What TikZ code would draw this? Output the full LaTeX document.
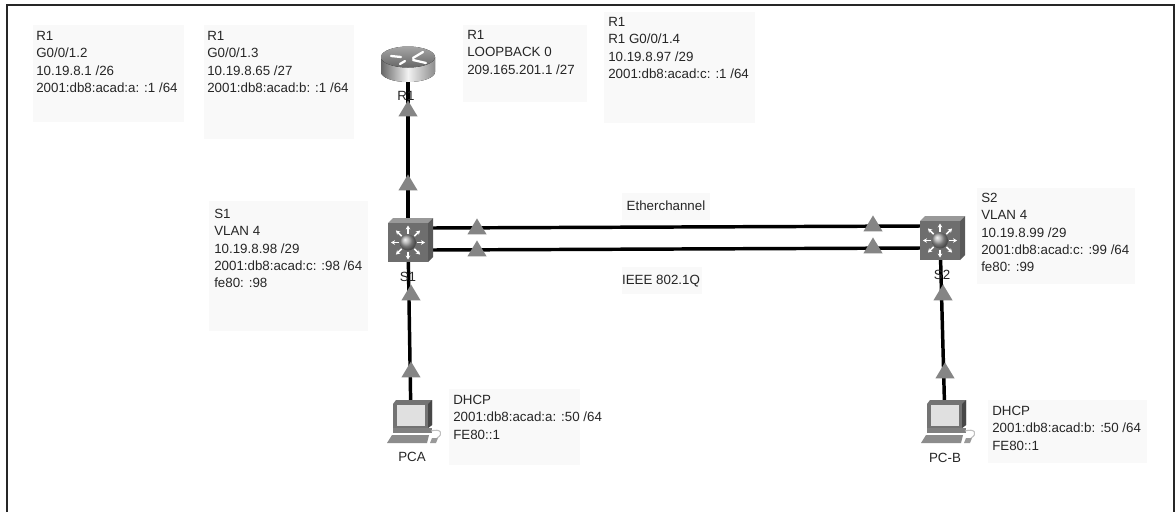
\documentclass[tikz,border=0pt]{standalone}
\usepackage{xcolor}
\usepackage{fontspec}
\setmainfont{Liberation Sans}
\usetikzlibrary{arrows.meta,positioning,shapes.geometric,calc}

\definecolor{notefill}{HTML}{F9F9F9}
\definecolor{markgray}{HTML}{858585}
\definecolor{swfront}{HTML}{6E6E6E}

\begin{document}
\begin{tikzpicture}[x=0.75pt, y=-0.75pt,
  note/.style={anchor=north west, fill=notefill, inner sep=0pt, align=left,
    font=\fontsize{10}{13}\selectfont, text=black!85},
  lbl/.style={font=\fontsize{10}{13}\selectfont, text=black!85, inner sep=0pt},
  link/.style={line width=2.6pt, color=black},
  linkmark/.style={isosceles triangle, isosceles triangle apex angle=62, shape border rotate=90,
    fill=markgray, inner sep=0pt, minimum height=12pt, minimum width=12pt},
  router/.pic={
    \fill[left color=black!60, right color=black!45, middle color=black!5]
      (-27,-9) -- (-27,6) arc[x radius=27, y radius=10, start angle=180, end angle=0] -- (27,-9) -- cycle;
    \fill[top color=black!35, bottom color=black!60] (0,-9) ellipse[x radius=27, y radius=10.5];
    \draw[white, line width=1.7pt, line cap=round] (-17,-10) -- (-7,-9) (5,-8) -- (15,-14)
      (-8,-2) -- (-3,-5) (5,-6) -- (18,-3);
  },
  switch/.pic={
    \fill[black!40] (-20,-17) -- (-15,-22) -- (25,-22) -- (20,-17) -- cycle;
    \fill[black!65] (20,-17) -- (25,-22) -- (25,17) -- (20,22) -- cycle;
    \fill[swfront] (-20,-17) rectangle (20,22);
    \foreach \ang in {0,45,...,315}
      \draw[white, line width=1.2pt, -{Stealth[length=3pt,width=3.5pt]}] (0,2.5) ++(\ang:9) -- ++(\ang:8);
    \shade[ball color=black!35] (0,2.5) circle[radius=8];
  },
  pc/.pic={
    \fill[black!55] (-18,-19) -- (-15,-23) -- (21,-23) -- (21,2) -- (17,5) -- (-18,5) -- cycle;
    \fill[black!72] (17,-19) -- (21,-23) -- (21,2) -- (17,5) -- cycle;
    \fill[black!12] (-14,-18) rectangle (14,3);
    \fill[black!50] (-18,5) rectangle (21,10);
    \fill[black!45] (-24,20) -- (-19,12) -- (18,12) -- (16,20) -- cycle;
    \fill[black!40] (19,20) -- (21,15) -- (27,15) -- (25,20) -- cycle;
    \draw[black!25, line width=0.8pt] (20,8) .. controls (30,5) and (33,11) .. (26,15);
  }
]
\useasboundingbox (0,0) rectangle (1176,512);
\fill[white] (0,0) rectangle (1176,512);

% Frame
\coordinate (fbl) at (7,512);
\coordinate (ftl) at (7,5);
\coordinate (ftr) at (1174,5);
\coordinate (fbr) at (1174,512);
\draw[line width=1.4pt, color=black!85] (fbl) -- (ftl) -- (ftr) -- (fbr);

% Address notes
\node[note, minimum width=113.25pt, minimum height=72.75pt] (noteA) at (33,25) {};
\node[note, minimum width=112.5pt, minimum height=85.5pt] (noteB) at (204,25) {};
\node[note, minimum width=93pt, minimum height=57.75pt] (noteC) at (463,25) {};
\node[note, minimum width=113.25pt, minimum height=83.25pt] (noteD) at (604,12) {};
\node[note, minimum width=119.25pt, minimum height=97.5pt] (noteS) at (209,201) {};
\node[note, minimum width=118.5pt, minimum height=72pt] (noteT) at (977,188) {};
\node[note, minimum width=98.25pt, minimum height=57pt] (noteP) at (449,389) {};
\node[note, minimum width=119.25pt, minimum height=47.25pt] (noteQ) at (988,400) {};
\node[note, minimum width=66pt, minimum height=20pt] (noteE) at (622,193) {};
\node[note, minimum width=60pt, minimum height=20pt] (noteI) at (622,267) {};

\node[note, fill=none] at (36,31) {R1\\G0/0/1.2\\10.19.8.1 /26\\2001:db8:acad:a: :1 /64};
\node[note, fill=none] at (207,31) {R1\\G0/0/1.3\\10.19.8.65 /27\\2001:db8:acad:b: :1 /64};
\node[note, fill=none] at (467,30) {R1\\LOOPBACK 0\\209.165.201.1 /27};
\node[note, fill=none] at (608,17) {R1\\R1 G0/0/1.4\\10.19.8.97 /29\\2001:db8:acad:c: :1 /64};
\node[note, fill=none] at (214,209) {S1\\VLAN 4\\10.19.8.98 /29\\2001:db8:acad:c: :98 /64\\fe80: :98};
\node[note, fill=none] at (981,193) {S2\\VLAN 4\\10.19.8.99 /29\\2001:db8:acad:c: :99 /64\\fe80: :99};
\node[note, fill=none] at (453,395) {DHCP\\2001:db8:acad:a: :50 /64\\FE80::1};
\node[note, fill=none] at (992,406) {DHCP\\2001:db8:acad:b: :50 /64\\FE80::1};

% Anchors of the devices
\coordinate (R1) at (408,66);
\coordinate (S1) at (408,240);
\coordinate (S2) at (940,238);
\coordinate (PCA) at (411,423);
\coordinate (PCB) at (945,423);
\coordinate (S1a) at (430,228);
\coordinate (S1b) at (430,250);
\coordinate (S2a) at (920,226);
\coordinate (S2b) at (920,248);

% Connectors
\draw[link] (R1) -- (S1);
\draw[link] (S1) -- (PCA);
\draw[link] (S2) -- (PCB);
\draw[link] (S1a) -- (S2a);
\draw[link] (S1b) -- (S2b);

% Devices
\pic at (R1) {router};
\pic at (S1) {switch};
\pic at (S2) {switch};
\pic at (PCA) {pc};
\pic at (PCB) {pc};

% Link markers
\node[linkmark] (mk1) at (408,111) {};
\node[linkmark] (mk2) at (408,185) {};
\node[linkmark] (mk3) at (411,295) {};
\node[linkmark] (mk4) at (411,372) {};
\node[linkmark] (mk5) at (477,229) {};
\node[linkmark] (mk6) at (477,251) {};
\node[linkmark] (mk7) at (873,226) {};
\node[linkmark] (mk8) at (873,248) {};
\node[linkmark] (mk9) at (943,295) {};
\node[linkmark] (mk10) at (945,373) {};

% Device names
\node[lbl] (lblR) at (406,96) {R1};
\node[lbl] (lblS) at (408,277) {S1};
\node[lbl] (lblT) at (942,275) {S2};
\node[lbl] (lblP) at (412,457) {PCA};
\node[lbl] (lblQ) at (945,458) {PC-B};

% Link names
\node[lbl] (lblE) at (666,206) {Etherchannel};
\node[lbl] (lblI) at (661,281) {IEEE 802.1Q};
\end{tikzpicture}
\end{document}
